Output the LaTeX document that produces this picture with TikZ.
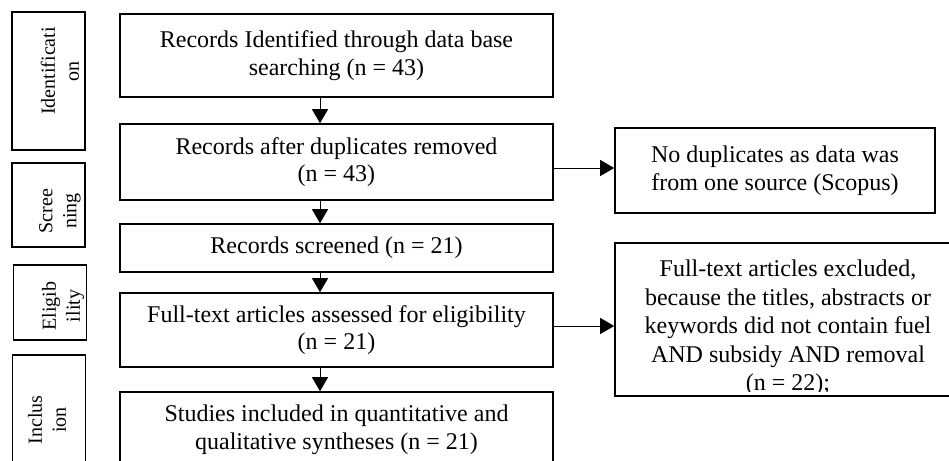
\documentclass[tikz,border=0pt]{standalone}
\usepackage{fontspec}
\setmainfont{Liberation Serif}
\usepackage{xcolor}
\usepackage{tikz}
\usetikzlibrary{arrows.meta}

\begin{document}
\begin{tikzpicture}[x=0.5pt,y=-0.5pt,
	caja/.style={draw,line width=0.8pt,inner sep=0pt,align=center,
		font=\fontsize{12}{13.8}\selectfont},
	etapa/.style={draw,line width=0.8pt,inner sep=0pt,minimum width=36.5pt},
	etiqueta/.style={rotate=90,align=center,inner sep=0pt,
		font=\fontsize{10}{12}\selectfont},
	flecha/.style={line width=0.5pt,-{Triangle[length=7pt,width=8pt]}}]
		\useasboundingbox (0,0) rectangle (949,461);
		% etapas a la izquierda
		\node[etapa,minimum height=69pt] (s1) at (48.5,81) {};
		\node[etapa,minimum height=42pt] (s2) at (48.5,205) {};
		\node[etapa,minimum height=37.5pt] (s3) at (50,302.5) {};
		\node[etapa,minimum height=65pt] (s4) at (49,420) {};
		\node[etiqueta] (t1) at (60,71) {Identificati\\on};
		\node[etiqueta] (t2) at (60,211) {Scree\\ning};
		\node[etiqueta] (t3) at (63,306) {Eligib\\ility};
		\node[etiqueta] (t4) at (47,420) {Inclus\\ion};
		% columna central
		\node[caja,minimum width=216.5pt,minimum height=41.5pt] (b1) at (336.5,55.5)
			{Records Identified through data base\\searching (n = 43)};
		\node[caja,minimum width=216.5pt,minimum height=38pt] (b2) at (336.5,162)
			{Records after duplicates removed\\(n = 43)};
		\node[caja,minimum width=216.5pt,minimum height=24pt] (b3) at (336.5,248)
			{Records screened (n = 21)};
		\node[caja,minimum width=216.5pt,minimum height=37pt] (b4) at (336.5,330)
			{Full-text articles assessed for eligibility\\(n = 21)};
		\node[caja,minimum width=216.5pt,minimum height=38pt] (b5) at (336.5,430)
			{Studies included in quantitative and\\qualitative syntheses (n = 21)};
		% excluidos
		\node[caja,minimum width=160pt,minimum height=42.5pt] (r1) at (775,170.5)
			{No duplicates as data was\\from one source (Scopus)};
		\node[caja,minimum width=173pt,minimum height=76.5pt] (r2) at (788,319.5) {};
		\begin{scope}
			\clip ([yshift=2.5pt]r2.south west) rectangle (r2.north east);
			\node[caja,draw=none,font=\fontsize{12}{14.3}\selectfont] (r2t) at (788,328)
				{Full-text articles excluded,\\because the titles, abstracts or\\keywords did not contain fuel\\AND subsidy AND removal\\(n = 22);};
		\end{scope}
		% flechas
		\coordinate (eje) at (320,0);
		\foreach \A/\B in {b1/b2,b2/b3,b3/b4,b4/b5}
		{
			\draw[flecha] (\A.south -| eje) -- (\B.north -| eje);
		}
		\draw[flecha] ([yshift=-3pt]b2.east) -- ([yshift=-3pt]b2.east -| r1.west);
		\draw[flecha] ([yshift=2pt]b4.east) -- ([yshift=2pt]b4.east -| r2.west);
\end{tikzpicture}
\end{document}
